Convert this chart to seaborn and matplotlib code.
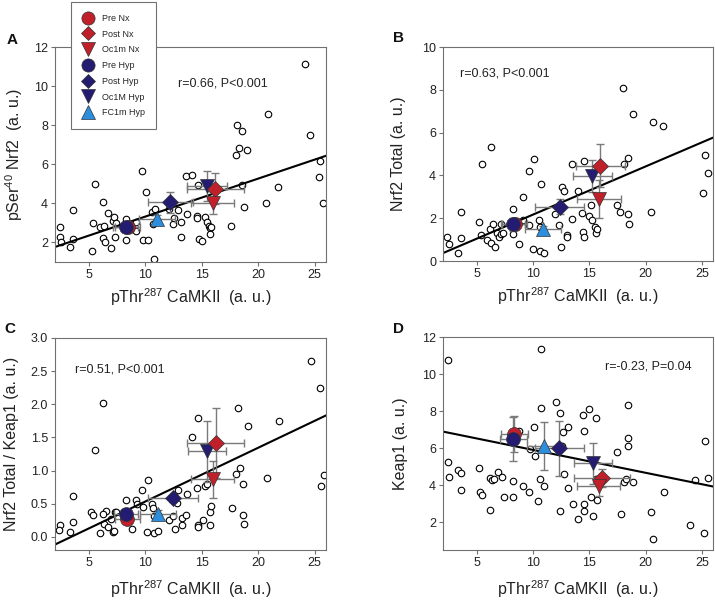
import matplotlib
matplotlib.use("Agg")
import numpy as np
import pandas as pd
import seaborn as sns
import matplotlib.pyplot as plt
from matplotlib.lines import Line2D

sns.set_theme(style="white")
plt.rcParams["font.family"] = ["Liberation Sans", "DejaVu Sans"]
plt.rcParams["mathtext.fontset"] = "custom"
plt.rcParams["mathtext.rm"] = "Liberation Sans"
plt.rcParams["mathtext.it"] = "Liberation Sans:italic"

# ---------------- data ----------------
x_A = [2.4, 2.4, 2.5, 3.36, 3.63, 3.63, 5.24, 5.5, 5.4, 5.96, 6.25, 6.37, 6.25, 6.43, 6.67, 6.94,
       7.1, 7.2, 7.27, 7.42, 8.28, 8.28, 9.18, 9.18, 9.7, 9.78, 10.1, 10.2, 10.6, 10.73, 10.85,
       10.67, 12.1, 12.46, 12.58, 12.85, 13.2, 13.15, 13.6, 14.13, 13.66, 14.55, 14.6, 14.73,
       15.03, 14.67, 15.27, 15.45, 15.6, 15.75, 15.69, 15.8, 17.63, 17.99, 18.16, 18.31, 18.55,
       19.03, 18.6, 18.7, 20.67, 20.88, 21.78, 24.16, 24.58, 25.5, 25.4, 25.75]
y_A = [2.78, 2.26, 2.0, 1.79, 2.19, 3.67, 1.57, 4.98, 2.98, 2.81, 4.07, 2.83, 2.22, 2.02, 3.53, 1.74,
       3.09, 3.29, 2.29, 2.97, 3.19, 2.12, 3.05, 2.57, 5.67, 2.12, 4.59, 2.14, 3.57, 1.14, 3.71,
       2.95, 3.71, 2.95, 3.26, 3.67, 3.07, 2.29, 5.41, 5.47, 3.48, 3.34, 3.24, 2.19,
       2.05, 4.93, 3.29, 3.03, 2.83, 2.74, 2.43, 2.78, 2.83, 6.45, 8.02, 6.83, 7.71,
       6.71, 4.93, 3.81, 4.0, 8.57, 4.84, 11.14, 7.5, 6.16, 5.36, 4.0]

x_B = [2.4, 2.49, 3.35, 3.58, 3.58, 5.18, 5.35, 5.44, 5.89, 6.18, 6.24, 6.3, 6.42, 6.6, 6.83, 6.98,
       7.13, 7.19, 7.36, 8.25, 8.25, 8.72, 9.1, 9.14, 9.64, 9.67, 10.0, 10.11, 10.55, 10.61, 10.7,
       10.64, 10.97, 11.97, 12.33, 12.47, 12.62, 12.74, 13.04, 13.04, 13.5, 13.48, 13.98, 14.39,
       14.45, 14.51, 14.57, 14.96, 15.16, 15.28, 15.52, 15.58, 15.7, 17.47, 17.76, 17.97, 18.12,
       18.41, 18.41, 18.5, 18.86, 20.48, 20.66, 21.54, 25.27, 25.53, 25.15]
y_B = [1.11, 0.78, 0.36, 2.31, 1.09, 1.84, 1.22, 4.52, 0.98, 1.48, 5.35, 0.83, 1.72, 0.64, 1.29, 1.14,
       1.25, 1.73, 1.29, 2.42, 1.25, 0.78, 2.98, 1.92, 4.21, 1.67, 0.58, 4.77, 1.92, 1.58, 3.59,
       0.48, 0.36, 2.18, 1.67, 0.67, 3.48, 3.28, 1.23, 1.11, 1.95, 4.52, 3.29, 2.23,
       1.37, 4.65, 1.11, 2.11, 2.62, 1.92, 1.61, 1.33, 1.48, 2.62, 2.29, 8.08, 4.51,
       4.8, 2.18, 1.73, 6.88, 2.28, 6.51, 6.32, 4.96, 4.1, 3.2]

x_C = [2.4, 2.37, 3.35, 3.62, 3.62, 5.21, 5.36, 5.51, 5.96, 6.26, 6.38, 6.5, 6.26, 6.68, 6.95, 7.1,
       7.22, 7.28, 7.43, 8.29, 8.29, 8.83, 9.19, 9.28, 9.73, 9.79, 10.21, 10.12, 10.57, 10.69,
       10.81, 10.75, 11.08, 12.13, 12.46, 12.52, 12.64, 12.78, 12.9, 13.23, 13.23, 13.62, 13.68,
       14.16, 14.58, 14.64, 14.69, 14.7, 15.09, 15.3, 15.48, 15.72, 15.75, 15.84, 17.69, 18.05,
       18.2, 18.35, 18.62, 18.68, 18.71, 19.07, 20.75, 21.83, 24.67, 25.48, 25.57, 25.81]
y_C = [0.17, 0.10, 0.07, 0.23, 0.61, 0.37, 0.33, 1.31, 0.06, 2.02, 0.19, 0.39, 0.34, 0.14, 0.27, 0.07,
       0.08, 0.38, 0.38, 0.56, 0.38, 0.11, 0.55, 0.49, 0.70, 0.45, 0.86, 0.07, 0.49, 0.43,
       0.32, 0.06, 0.08, 0.26, 0.31, 0.63, 0.11, 0.51, 0.70, 0.28, 0.17, 0.33, 0.65,
       1.51, 0.73, 0.17, 1.80, 0.15, 0.26, 0.77, 0.80, 0.17, 0.37, 0.46, 0.44, 0.94,
       1.94, 1.04, 0.79, 0.33, 0.20, 1.67, 0.88, 1.75, 2.66, 2.24, 0.77, 0.93]

x_D = [2.43, 2.43, 2.51, 3.37, 3.61, 3.61, 5.21, 5.33, 5.47, 6.21, 6.21, 6.39, 6.57, 6.86, 7.22, 7.4,
       8.22, 8.22, 8.76, 9.14, 9.67, 9.73, 10.06, 10.15, 10.47, 10.59, 10.68, 10.74, 11.0, 12.01,
       12.37, 12.37, 12.54, 12.66, 12.78, 13.08, 13.08, 13.55, 14.02, 14.44, 14.56, 14.5, 14.56,
       14.97, 15.15, 15.33, 15.56, 15.62, 15.68, 17.51, 17.81, 18.05, 18.46, 18.46, 18.46, 18.25,
       18.88, 20.53, 20.7, 21.6, 23.96, 24.38, 25.2, 25.3, 25.56]
y_D = [10.76, 5.27, 4.44, 4.84, 4.64, 3.72, 4.93, 3.65, 3.47, 2.68, 4.39, 4.28, 4.33, 4.69, 4.44, 3.36,
       4.24, 3.36, 6.94, 3.96, 3.65, 5.95, 7.15, 5.59, 3.13, 4.33, 8.19, 11.35, 3.97, 8.48,
       7.89, 2.63, 6.13, 6.85, 4.62, 7.15, 3.83, 3.0, 2.18, 7.8, 6.92, 3.0, 2.61,
       8.1, 3.38, 2.36, 7.6, 4.33, 3.19, 5.77, 2.43, 4.19, 8.32, 6.56, 6.13, 4.33,
       4.15, 2.57, 1.07, 3.65, 1.87, 4.3, 1.43, 6.38, 4.37]

groups = ["Pre Nx", "Post Nx", "Oc1m Nx", "Pre Hyp", "Post Hyp", "Oc1M Hyp", "FC1m Hyp"]

mean_x_A = [8.43, 16.2, 15.98, 8.28, 12.2, 15.45, 11.03]
mean_y_A = [2.81, 4.76, 4.02, 2.78, 4.05, 4.88, 3.22]
xerr_A = [1.1, 2.5, 1.9, 1.1, 2.0, 1.75, 1.6]
yerr_A = [0.2, 0.77, 0.58, 0.2, 0.55, 0.77, 0.2]

mean_x_B = [8.37, 15.99, 15.84, 8.22, 12.36, 15.28, 10.9]
mean_y_B = [1.73, 4.45, 2.9, 1.72, 2.54, 3.98, 1.48]
xerr_B = [1.1, 2.2, 1.95, 1.1, 2.2, 1.75, 1.6]
yerr_B = [0.3, 1.0, 0.87, 0.3, 0.35, 0.75, 0.15]

mean_x_C = [8.41, 16.23, 15.96, 8.29, 12.43, 15.48, 11.1]
mean_y_C = [0.27, 1.41, 0.87, 0.34, 0.58, 1.29, 0.34]
xerr_C = [1.1, 2.5, 1.9, 1.1, 2.2, 1.7, 1.6]
yerr_C = [0.05, 0.53, 0.28, 0.05, 0.05, 0.46, 0.06]

mean_x_D = [8.34, 16.1, 15.83, 8.25, 12.34, 15.3, 10.95]
mean_y_D = [6.74, 4.4, 3.97, 6.49, 5.99, 5.18, 6.13]
xerr_D = [1.2, 2.5, 1.9, 1.2, 2.2, 1.7, 1.5]
yerr_D = [0.97, 0.5, 0.55, 1.17, 1.5, 1.1, 1.3]

# regression lines as reported in the figure (intercept, slope)
reg_intercept = [1.38, -0.08, -0.28, 7.14]
reg_slope = [0.1944, 0.2248, 0.0812, -0.1235]

stats_text = ["r=0.66, P<0.001", "r=0.63, P<0.001", "r=0.51, P<0.001", "r=-0.23, P=0.04"]
panel_letters = ["A", "B", "C", "D"]
y_labels = ["pSer$^{\\mathrm{40}}$ Nrf2  (a. u.)", "Nrf2 Total (a. u.)",
            "Nrf2 Total / Keap1 (a. u.)", "Keap1 (a. u.)"]
x_label = "pThr$^{\\mathrm{287}}$ CaMKII  (a. u.)"
y_limits = [(1, 12), (0, 10), (-0.2, 3.0), (0.5, 12)]
y_ticks = [[2, 4, 6, 8, 10, 12], [0, 2, 4, 6, 8, 10],
           [0.0, 0.5, 1.0, 1.5, 2.0, 2.5, 3.0], [2, 4, 6, 8, 10, 12]]
x_ticks = [5, 10, 15, 20, 25]

# ---------------- styles ----------------
RED = "#C0202A"
NAVY = "#241C70"
LBLUE = "#2C8EDC"
g_colors = [RED, RED, RED, NAVY, NAVY, NAVY, LBLUE]
g_markers = ["o", "D", "v", "o", "D", "v", "^"]
g_sizes = [10, 8, 10, 10, 8, 10, 10]
draw_order = [0, 3, 4, 6, 5, 1, 2]
SPINE = "#707070"

W, H = 715, 602
fig = plt.figure(figsize=(W / 100, H / 100), dpi=100)

def box(l, t, r, b):
    return [l / W, 1 - b / H, (r - l) / W, (b - t) / H]

axes_px = [(55, 47, 326, 262), (443, 47, 713, 261), (55, 338, 326, 550), (443, 337, 713, 550)]
stat_pos = [(0.62, 0.83), (0.23, 0.875), (0.24, 0.85), (0.76, 0.86)]
ylabel_x = [-0.11, -0.138, -0.133, -0.129]
xlabel_y = [-0.115, -0.115, -0.135, -0.135]
letter_pos = [(12, 40), (399, 38), (10, 329), (398, 329)]

data = [
    (x_A, y_A, mean_x_A, mean_y_A, xerr_A, yerr_A),
    (x_B, y_B, mean_x_B, mean_y_B, xerr_B, yerr_B),
    (x_C, y_C, mean_x_C, mean_y_C, xerr_C, yerr_C),
    (x_D, y_D, mean_x_D, mean_y_D, xerr_D, yerr_D),
]

for i, (xs, ys, mx, my, xe, ye) in enumerate(data):
    ax = fig.add_axes(box(*axes_px[i]))
    ax.set_xlim(2, 26)
    ax.set_ylim(*y_limits[i])
    df = pd.DataFrame({"x": xs, "y": ys})
    sns.scatterplot(data=df, x="x", y="y", ax=ax, s=22, facecolor="white",
                    edgecolor="black", linewidth=0.8, zorder=2)
    lx = np.array(ax.get_xlim())
    line_df = pd.DataFrame({"x": lx, "y": reg_intercept[i] + reg_slope[i] * lx})
    sns.lineplot(data=line_df, x="x", y="y", ax=ax, color="black", lw=1.5, zorder=2.5)
    for g in draw_order:
        ax.errorbar(mx[g], my[g], xerr=xe[g], yerr=ye[g], fmt="none", ecolor="#7a7a7a",
                    elinewidth=1.0, capsize=3, capthick=1.0, zorder=3)
    for g in draw_order:
        ax.plot(mx[g], my[g], linestyle="none", marker=g_markers[g], markersize=g_sizes[g],
                markerfacecolor=g_colors[g], markeredgecolor="#333333", markeredgewidth=0.5,
                zorder=4)
    ax.set_xlim(2, 26)
    ax.set_ylim(*y_limits[i])
    ax.set_xticks(x_ticks)
    ax.set_yticks(y_ticks[i])
    if i == 2:
        ax.set_yticklabels([f"{v:.1f}" for v in y_ticks[i]])
    ax.tick_params(axis="both", direction="out", length=3, width=0.8, color=SPINE,
                   labelsize=9, pad=2, left=True, bottom=True, labelcolor="#222222")
    for sp in ax.spines.values():
        sp.set_color(SPINE)
        sp.set_linewidth(0.8)
    ax.set_xlabel(x_label, fontsize=11.5, color="#222222")
    ax.set_ylabel(y_labels[i], fontsize=11.5, color="#222222")
    ax.xaxis.set_label_coords(0.5, xlabel_y[i])
    ax.yaxis.set_label_coords(ylabel_x[i], 0.5)
    ax.text(stat_pos[i][0], stat_pos[i][1], stats_text[i], transform=ax.transAxes,
            fontsize=9, ha="center", va="center", color="#222222")
    fig.text(letter_pos[i][0] / W, 1 - letter_pos[i][1] / H, panel_letters[i],
             fontsize=11, fontweight="bold", ha="center", va="center", color="#111111")

handles = [Line2D([0], [0], linestyle="none", marker=g_markers[g], markersize=g_sizes[g] * 0.95,
                  markerfacecolor=g_colors[g], markeredgecolor="#333333", markeredgewidth=0.5)
           for g in range(len(groups))]
leg = fig.legend(handles, groups, loc="upper left", bbox_to_anchor=(71 / W, 1 - 2 / H),
                 bbox_transform=fig.transFigure, fontsize=6.5, frameon=True, fancybox=False,
                 edgecolor=SPINE, framealpha=1, borderpad=1.3, labelspacing=0.75,
                 handlelength=1.2, handletextpad=0.9, borderaxespad=0)
leg.get_frame().set_linewidth(0.8)
leg.set_zorder(10)

fig.savefig("out.png", dpi=100)
